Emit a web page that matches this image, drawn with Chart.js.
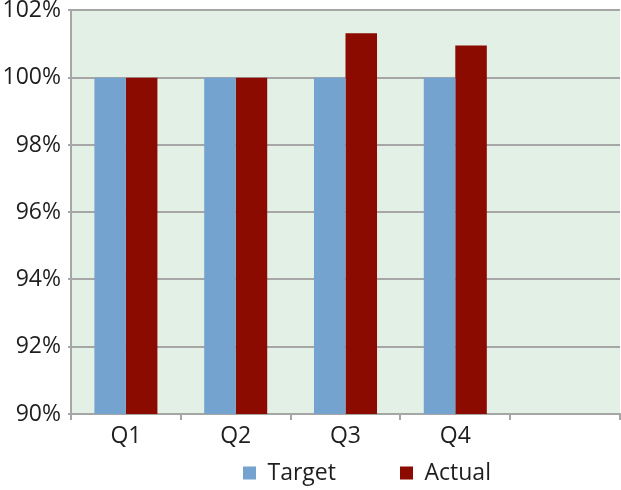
<!DOCTYPE html>
<html><head><meta charset="utf-8">
<script src="https://cdn.jsdelivr.net/npm/chart.js@4"></script>
<style>html,body{margin:0;padding:0;background:#fff;} #wrap{width:621px;height:490px;}</style>
</head><body><div id="wrap"><canvas id="c" width="621" height="490"></canvas></div>
<script>
const categories = ['Q1', 'Q2', 'Q3', 'Q4', ''];
const targetValues = [100, 100, 100, 100, null];
const actualValues = [100, 100, 101.32, 100.96, null];
const seriesNames = ['Target', 'Actual'];
const yMin = 90, yMax = 102, yStep = 2;

const FONT = '"Open Sans", "DejaVu Sans", sans-serif';
const FS = 23;
const GRID = '#a6a6a6';
const TEXT = '#1e1e1e';

const LEG_BOX = 13;
const LEG_FIRST_X = 243;
const LEG_SECOND_X = 400;
const LEG_CENTER_Y = 473;
const mctx = document.createElement('canvas').getContext('2d');
mctx.font = FS + 'px ' + FONT;
const firstW = mctx.measureText(seriesNames[0]).width;
const LEG_PAD = Math.max(4, LEG_SECOND_X - LEG_FIRST_X - LEG_BOX - FS / 2 - firstW);

const plotBg = {
  id: 'plotBg',
  beforeDraw(chart) {
    const {ctx, chartArea: a} = chart;
    ctx.save();
    ctx.fillStyle = '#e2f0e6';
    ctx.fillRect(a.left, a.top, a.right - a.left, a.bottom - a.top);
    ctx.restore();
  }
};
const legendShift = {
  id: 'legendShift',
  afterLayout(chart) {
    const lg = chart.legend;
    if (!lg) return;
    const w = lg.width;
    lg.left = LEG_FIRST_X - LEG_PAD;
    lg.right = lg.left + w;
    lg.top = LEG_CENTER_Y - FS / 2 - LEG_PAD;
    lg.bottom = lg.top + LEG_PAD + FS + 20;
    lg.height = lg.bottom - lg.top;
  }
};

new Chart(document.getElementById('c'), {
  type: 'bar',
  data: {
    labels: categories,
    datasets: [
      {label: seriesNames[0], data: targetValues, backgroundColor: '#74a3cf', borderWidth: 0,
       categoryPercentage: 0.574, barPercentage: 1.0},
      {label: seriesNames[1], data: actualValues, backgroundColor: '#8b0b00', borderWidth: 0,
       categoryPercentage: 0.574, barPercentage: 1.0}
    ]
  },
  options: {
    responsive: false,
    animation: false,
    devicePixelRatio: 1,
    layout: {padding: {top: 0, right: 1, left: 0, bottom: 0}},
    scales: {
      x: {
        offset: true,
        grid: {offset: true, drawOnChartArea: false, drawTicks: true, tickLength: 6, color: GRID, lineWidth: 2},
        border: {display: true, color: GRID, width: 2},
        ticks: {font: {family: FONT, size: FS}, color: TEXT, padding: 3, maxRotation: 0, autoSkip: false},
        afterFit(s) { s.height = 36; }
      },
      y: {
        min: yMin, max: yMax,
        ticks: {stepSize: yStep, callback: v => v + '%', font: {family: FONT, size: FS, lineHeight: 0.3}, color: TEXT, padding: 7},
        grid: {color: GRID, lineWidth: 2, tickLength: 3},
        border: {color: GRID, width: 2},
        afterFit(s) { s.width = 71; }
      }
    },
    plugins: {
      legend: {
        position: 'bottom',
        align: 'start',
        maxHeight: 40,
        labels: {boxWidth: LEG_BOX, boxHeight: LEG_BOX, padding: LEG_PAD,
                 font: {family: FONT, size: FS}, color: TEXT}
      },
      tooltip: {enabled: false}
    }
  },
  plugins: [plotBg, legendShift]
});
</script>
</body></html>
